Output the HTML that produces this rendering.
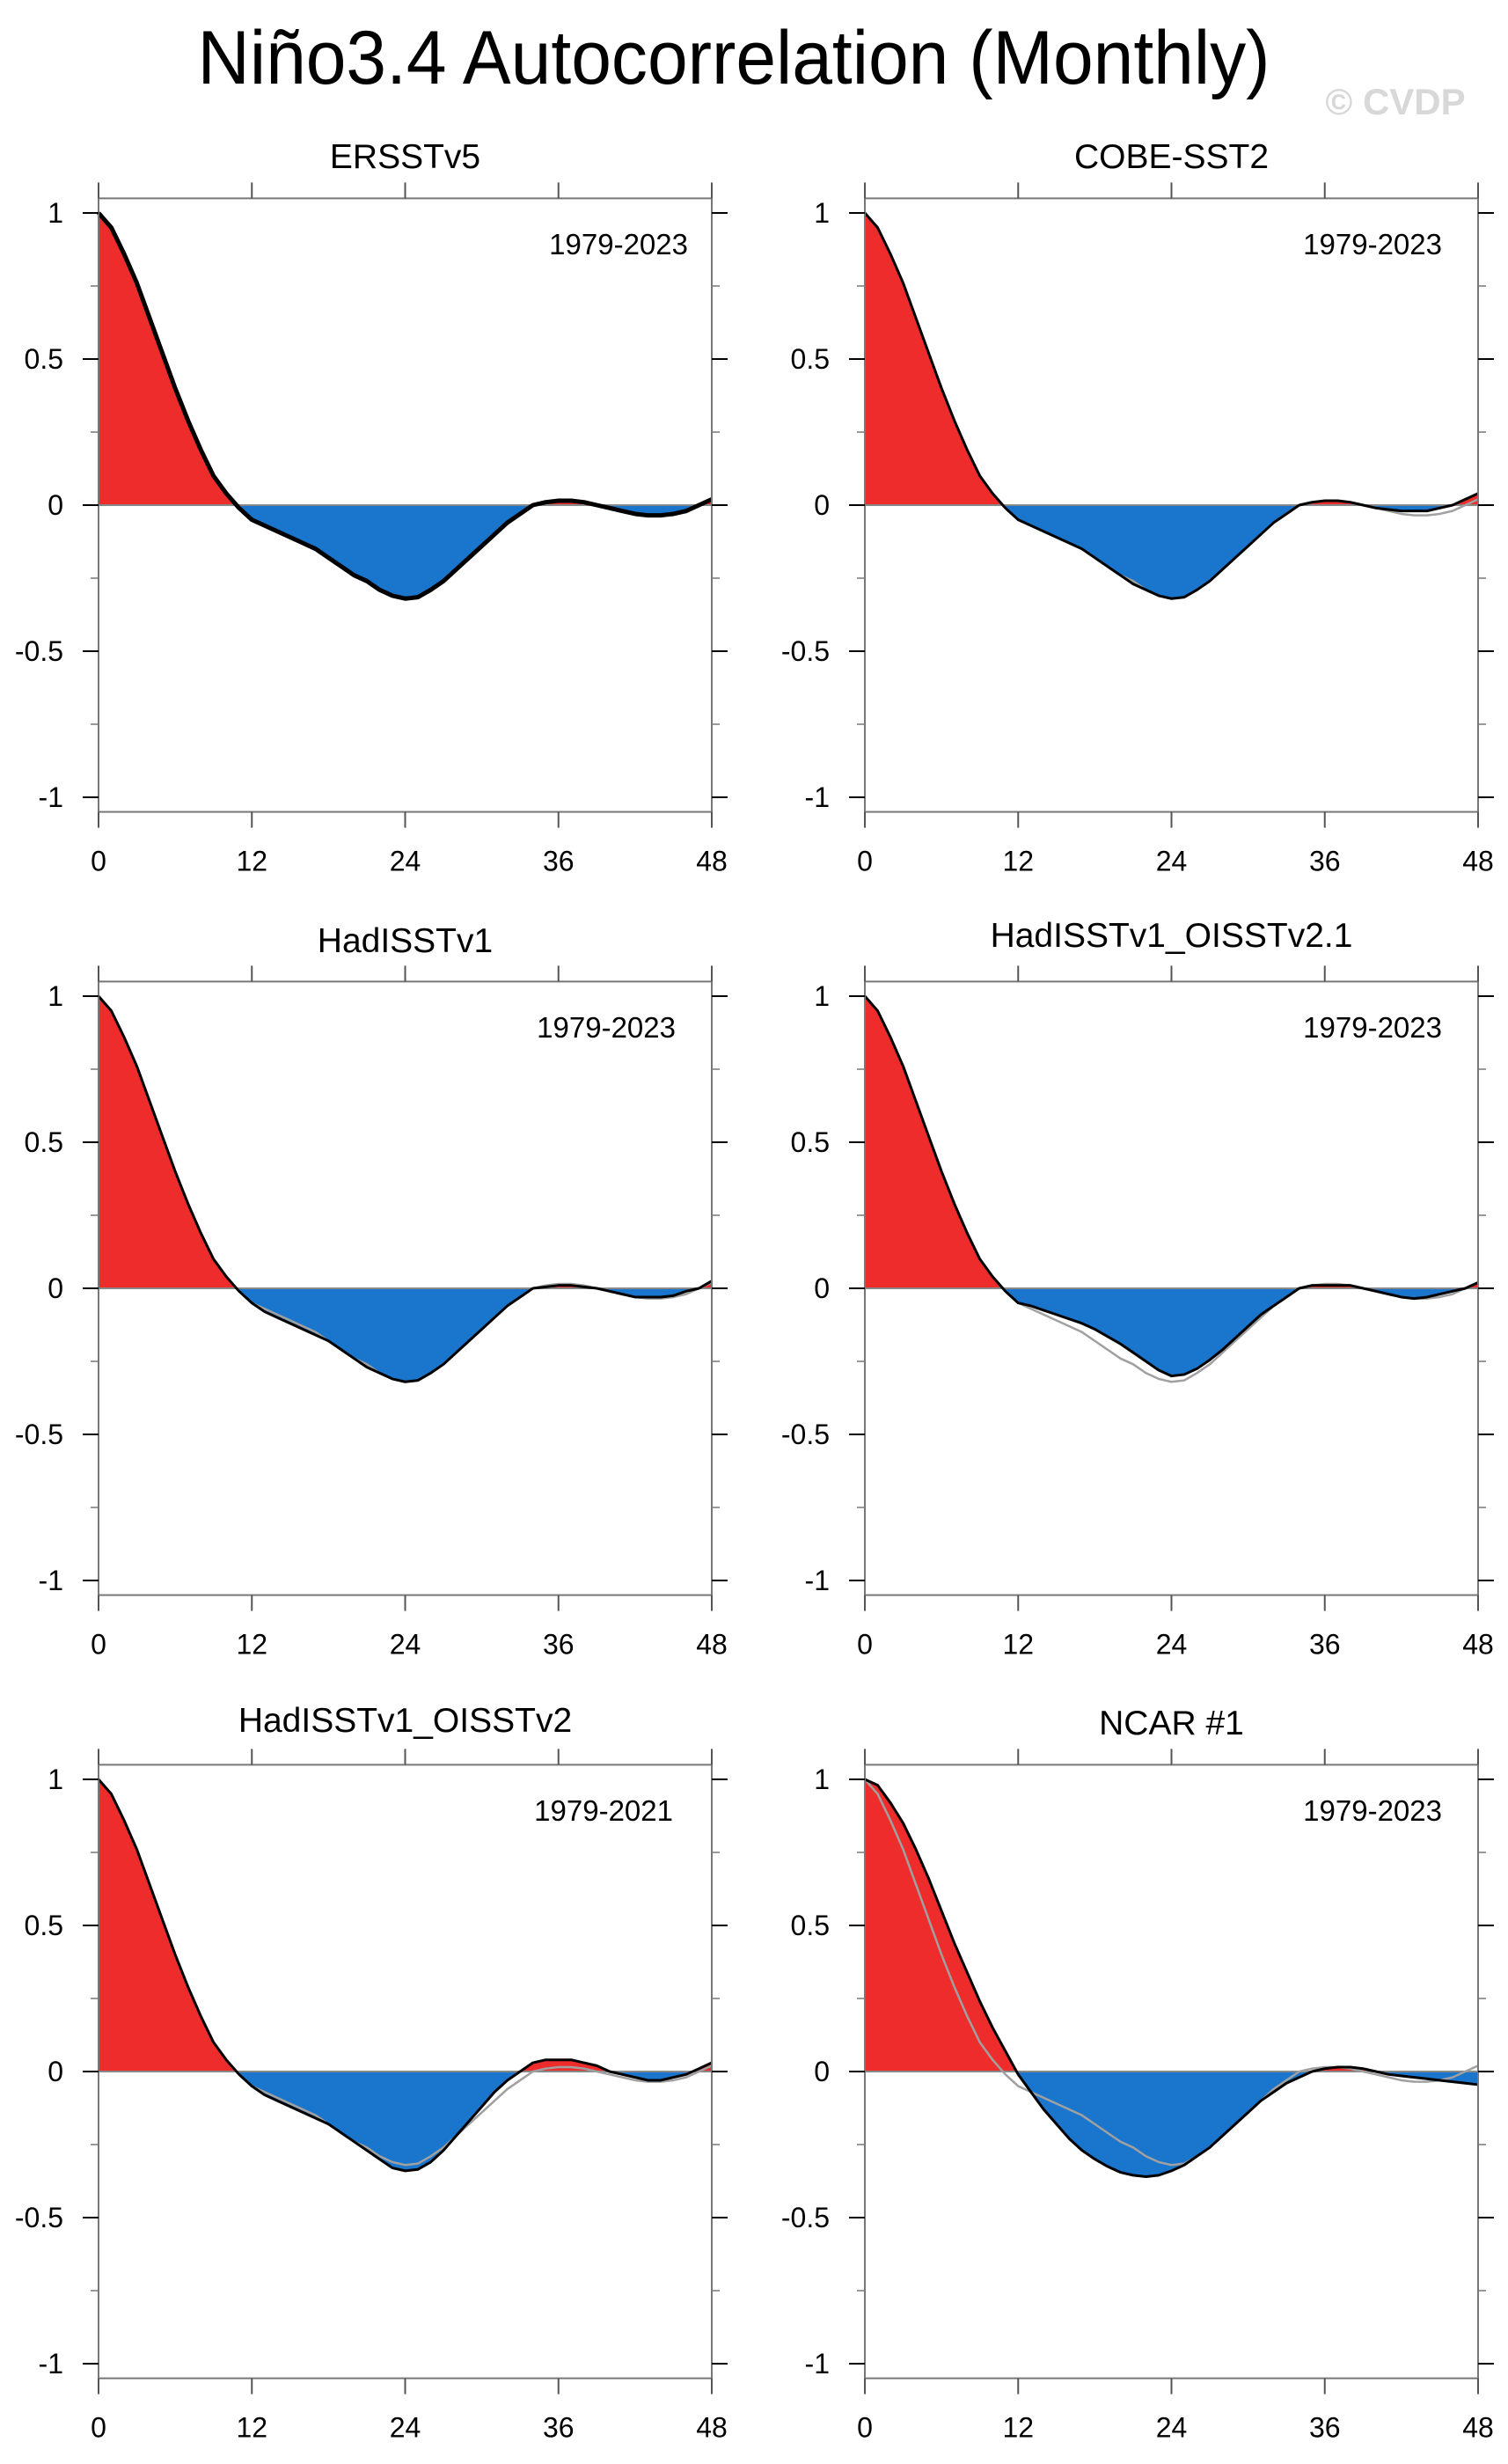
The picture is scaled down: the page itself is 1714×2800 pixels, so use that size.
<!DOCTYPE html>
<html><head><meta charset="utf-8"><style>html,body{margin:0;padding:0;background:#fff}svg{display:block}</style></head>
<body>
<svg id="fig" width="1714" height="2800" viewBox="0 0 1714 2800" xmlns="http://www.w3.org/2000/svg" font-family="'Liberation Sans', Helvetica, Arial, sans-serif">
<text x="834" y="95" font-size="86" text-anchor="middle" textLength="1219" lengthAdjust="spacingAndGlyphs">Niño3.4 Autocorrelation (Monthly)</text>
<text x="1586" y="130" font-size="42" font-weight="bold" fill="#d8d8d8" text-anchor="middle">© CVDP</text>
<g id="panels"></g>
</svg>
<script>
const lags = [0,1,2,3,4,5,6,7,8,9,10,11,12,13,14,15,16,17,18,19,20,21,22,23,24,25,26,27,28,29,30,31,32,33,34,35,36,37,38,39,40,41,42,43,44,45,46,47,48];
const xTicks = [0,12,24,36,48];
const yTicks = [1,0.5,0,-0.5,-1];
const yTickLabels = ["1","0.5","0","-0.5","-1"];
const titles = ["ERSSTv5","COBE-SST2","HadISSTv1","HadISSTv1_OISSTv2.1","HadISSTv1_OISSTv2","NCAR #1"];
const years = ["1979-2023","1979-2023","1979-2023","1979-2023","1979-2021","1979-2023"];
const obsERSST = [1,0.95,0.86,0.76,0.64,0.52,0.40,0.29,0.19,0.10,0.04,-0.01,-0.05,-0.07,-0.09,-0.11,-0.13,-0.15,-0.18,-0.21,-0.24,-0.26,-0.29,-0.31,-0.32,-0.315,-0.29,-0.26,-0.22,-0.18,-0.14,-0.10,-0.06,-0.03,0.0,0.01,0.015,0.015,0.01,0.0,-0.01,-0.02,-0.03,-0.035,-0.035,-0.03,-0.02,0.0,0.02];
const cobe = [1,0.95,0.86,0.76,0.64,0.52,0.40,0.29,0.19,0.10,0.04,-0.01,-0.05,-0.07,-0.09,-0.11,-0.13,-0.15,-0.18,-0.21,-0.24,-0.27,-0.29,-0.31,-0.32,-0.315,-0.29,-0.26,-0.22,-0.18,-0.14,-0.10,-0.06,-0.03,0.0,0.01,0.015,0.015,0.01,0.0,-0.01,-0.015,-0.02,-0.02,-0.02,-0.01,0.0,0.02,0.04];
const hadisst = [1,0.95,0.86,0.76,0.64,0.52,0.40,0.29,0.19,0.10,0.04,-0.01,-0.05,-0.08,-0.10,-0.12,-0.14,-0.16,-0.18,-0.21,-0.24,-0.27,-0.29,-0.31,-0.32,-0.315,-0.29,-0.26,-0.22,-0.18,-0.14,-0.10,-0.06,-0.03,0.0,0.005,0.01,0.01,0.005,0.0,-0.01,-0.02,-0.03,-0.03,-0.03,-0.025,-0.01,0.0,0.025];
const hadOI21 = [1,0.95,0.86,0.76,0.64,0.52,0.40,0.29,0.19,0.10,0.04,-0.01,-0.05,-0.06,-0.075,-0.09,-0.105,-0.12,-0.14,-0.165,-0.19,-0.22,-0.25,-0.28,-0.30,-0.295,-0.275,-0.245,-0.21,-0.17,-0.13,-0.09,-0.06,-0.03,0.0,0.01,0.01,0.01,0.01,0.0,-0.01,-0.02,-0.03,-0.035,-0.03,-0.02,-0.01,0.0,0.02];
const hadOI2 = [1,0.95,0.86,0.76,0.64,0.52,0.40,0.29,0.19,0.10,0.04,-0.01,-0.05,-0.08,-0.10,-0.12,-0.14,-0.16,-0.18,-0.21,-0.24,-0.27,-0.30,-0.33,-0.34,-0.335,-0.31,-0.27,-0.22,-0.17,-0.12,-0.07,-0.03,0.0,0.03,0.04,0.04,0.04,0.03,0.02,0.0,-0.01,-0.02,-0.03,-0.03,-0.02,-0.01,0.01,0.03];
const ncar = [1,0.98,0.92,0.85,0.76,0.66,0.55,0.44,0.34,0.24,0.15,0.07,-0.01,-0.07,-0.13,-0.18,-0.23,-0.27,-0.30,-0.325,-0.345,-0.355,-0.36,-0.355,-0.34,-0.32,-0.29,-0.26,-0.22,-0.18,-0.14,-0.10,-0.07,-0.04,-0.02,0.0,0.01,0.015,0.015,0.01,0.0,-0.01,-0.015,-0.02,-0.025,-0.03,-0.035,-0.04,-0.045];
const seriesList = [obsERSST,cobe,hadisst,hadOI21,hadOI2,ncar];

const NS="http://www.w3.org/2000/svg";
const root=document.getElementById('panels');
function mk(tag,attrs,parent){const e=document.createElementNS(NS,tag);for(const k in attrs)e.setAttribute(k,attrs[k]);parent.appendChild(e);return e;}
const colX=[112,983], W=697, rowY1=[242,1132,2022], UNIT=332;
const titleY=[191,1082,1968], titleYR=[191,1076,1971];
const yearX=[[782,1639],[768,1639],[765,1639]];

for(let p=0;p<6;p++){
  const col=p%2,row=Math.floor(p/2);
  const L=colX[col], R=L+W, y0=rowY1[row]+UNIT;
  const sx=v=>L+v/48*W, sy=v=>y0-v*UNIT;
  const top=sy(1.05), bot=sy(-1.05);
  const g=mk('g',{},root);
  
  
  const cid='c'+p;
  const cp=mk('clipPath',{id:cid+'a'},g); mk('rect',{x:L,y:top,width:W,height:y0-top},cp);
  const cp2=mk('clipPath',{id:cid+'b'},g); mk('rect',{x:L,y:y0,width:W,height:bot-y0},cp2);
  const data=seriesList[p];
  let pts=lags.map((l,i)=>sx(l).toFixed(2)+','+sy(data[i]).toFixed(2)).join(' ');
  let area='M'+sx(0)+','+y0+' L'+pts+' L'+sx(48)+','+y0+' Z';
  const pos=mk('path',{d:area,fill:'#ee2c2c','clip-path':'url(#'+cid+'a)'},g);
  
  
  const neg=mk('path',{d:area,fill:'#1a75cc','clip-path':'url(#'+cid+'b)'},g);
  
  
  const zl=mk('line',{x1:L,x2:R,y1:y0,y2:y0,stroke:'#888',"stroke-width":2},g);
  
  
  if(p>0){
    let op=lags.map((l,i)=>sx(l).toFixed(2)+','+sy(obsERSST[i]).toFixed(2)).join(' ');
    const ol=mk('polyline',{points:op,fill:'none',stroke:'#a0a0a0',"stroke-width":2.5,"stroke-linejoin":"round"},g);
    
    
  }
  const ln=mk('polyline',{points:pts,fill:'none',stroke:'#000',"stroke-width":p===0?5:3,"stroke-linejoin":"round"},g);
  
  
  const fr=mk('rect',{x:L,y:top,width:W,height:bot-top,fill:'none',stroke:'#777',"stroke-width":2},g);
  
  
  xTicks.forEach(t=>{
    mk('line',{x1:sx(t),x2:sx(t),y1:top,y2:top-18,stroke:'#555',"stroke-width":2},g);
    mk('line',{x1:sx(t),x2:sx(t),y1:bot,y2:bot+18,stroke:'#555',"stroke-width":2},g);
    const tx=mk('text',{x:sx(t),y:bot+67,"font-size":32,"text-anchor":"middle"},g);
    
    
    tx.textContent=String(t);
  });
  yTicks.forEach((t,i)=>{
    mk('line',{x1:L,x2:L-18,y1:sy(t),y2:sy(t),stroke:'#000',"stroke-width":2},g);
    mk('line',{x1:R,x2:R+18,y1:sy(t),y2:sy(t),stroke:'#000',"stroke-width":2},g);
    const ty=mk('text',{x:L-40,y:sy(t)+11,"font-size":32,"text-anchor":"end"},g);
    
    
    ty.textContent=yTickLabels[i];
  });
  [0.75,0.25,-0.25,-0.75].forEach(t=>{
    mk('line',{x1:L,x2:L-9,y1:sy(t),y2:sy(t),stroke:'#777',"stroke-width":1.5},g);
    mk('line',{x1:R,x2:R+9,y1:sy(t),y2:sy(t),stroke:'#777',"stroke-width":1.5},g);
  });
  const tt=mk('text',{x:L+W/2,y:col===0?titleY[row]:titleYR[row],"font-size":39,"text-anchor":"middle"},g);
  
  
  tt.textContent=titles[p];
  const yr=mk('text',{x:yearX[row][col],y:rowY1[row]+47,"font-size":33,"text-anchor":"end"},g);
  
  
  yr.textContent=years[p];
}
</script>
</body></html>
